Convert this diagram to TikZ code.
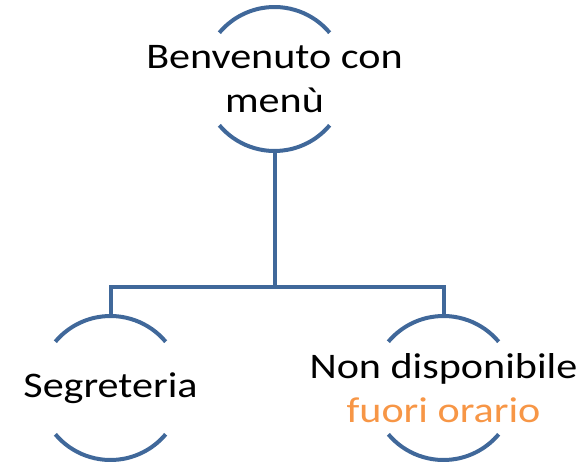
\documentclass[tikz,border=0pt]{standalone}
\usepackage{fontspec}
\setmainfont{Carlito}[FakeStretch=1.17]
\usepackage{tikz}
\definecolor{ringblue}{RGB}{64,104,154}
\definecolor{offorange}{RGB}{247,150,70}

\begin{document}
\begin{tikzpicture}[
    x=1pt, y=1pt,
    ring/.style={circle, minimum size=144pt, inner sep=0pt, outer sep=0pt},
    txt/.style={align=center, inner sep=0pt, font=\fontsize{36}{44}\selectfont},
    link/.style={draw=ringblue, line width=4pt}
]
\useasboundingbox (0,0) rectangle (585,466);

\node[ring, label={[txt]center:Benvenuto con\\menù}] (menu) at (274.5,387) {};
\node[ring, label={[txt]center:Segreteria}] (segr) at (110.5,78) {};
\node[ring, label={[txt]center:Non disponibile\\\textcolor{offorange}{fuori orario}}] (nondisp) at (443.5,78) {};
\coordinate (bus) at (274.5,179);

% arcs above and below each label
\foreach \n in {menu,segr,nondisp} {
    \draw[link] (\n.40) arc[start angle=40, end angle=140, radius=72];
    \draw[link] (\n.220) arc[start angle=220, end angle=320, radius=72];
}

\draw[link] (menu.south) -- (bus) -| (segr.north);
\draw[link] (bus) -| (nondisp.north);
\end{tikzpicture}
\end{document}
